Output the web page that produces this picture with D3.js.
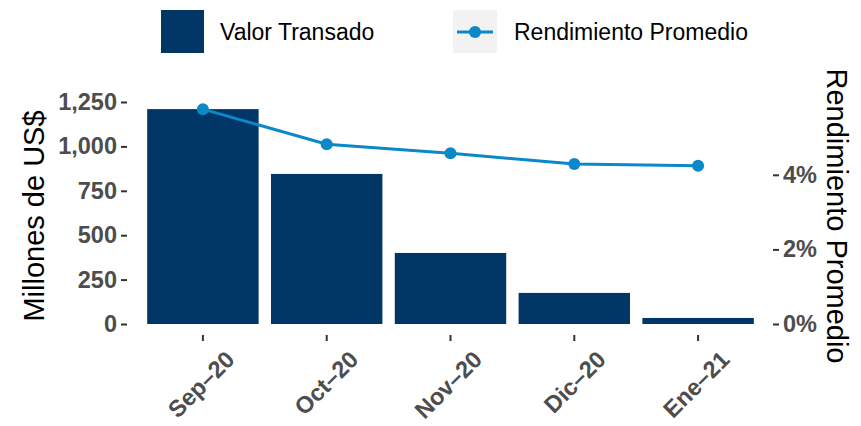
<!DOCTYPE html>
<html>
<head>
<meta charset="utf-8">
<script src="https://cdn.jsdelivr.net/npm/d3@7"></script>
<style>
  body { margin: 0; background: #fff; }
  svg { font-family: "Liberation Sans", Arial, sans-serif; }
</style>
</head>
<body>
<svg id="chart" width="861" height="426"></svg>
<script>
// Data
const months = ["Sep–20", "Oct–20", "Nov–20", "Dic–20", "Ene–21"];
const valorTransado = [1210, 845, 400, 175, 34];          // millones de US$
const rendimiento = [0.0576, 0.0482, 0.0458, 0.0429, 0.0424];
const leftTicks = [0, 250, 500, 750, 1000, 1250];
const rightTicks = [0, 0.02, 0.04];

const barColor = "#003767";
const lineColor = "#0a88c8";
const tickText = "#4d4d4d";

const svg = d3.select("#chart");

// panel
const panel = { left: 129, right: 772, top: 91, bottom: 335 };

const x = d3.scaleBand()
  .domain(months)
  .range([panel.left + 12, panel.right - 12])
  .paddingInner(0.1)
  .paddingOuter(0.05);

const y = d3.scaleLinear()
  .domain([0, 1250])
  .range([324, 102]);

// secondary axis is the primary divided by 210 (in %)
const yRight = d3.scaleLinear()
  .domain([0, 1250 / 210 / 100])
  .range([324, 102]);

// bars
svg.append("g")
  .selectAll("rect")
  .data(valorTransado)
  .enter()
  .append("rect")
  .attr("x", (d, i) => x(months[i]))
  .attr("y", d => y(d))
  .attr("width", x.bandwidth())
  .attr("height", d => y(0) - y(d))
  .attr("fill", barColor);

// line
const line = d3.line()
  .x((d, i) => x(months[i]) + x.bandwidth() / 2)
  .y(d => yRight(d));

svg.append("path")
  .datum(rendimiento)
  .attr("d", line)
  .attr("fill", "none")
  .attr("stroke", lineColor)
  .attr("stroke-width", 3);

svg.append("g")
  .selectAll("circle")
  .data(rendimiento)
  .enter()
  .append("circle")
  .attr("cx", (d, i) => x(months[i]) + x.bandwidth() / 2)
  .attr("cy", d => yRight(d))
  .attr("r", 6)
  .attr("fill", lineColor);

// left axis
const yAxis = d3.axisLeft(y)
  .tickValues(leftTicks)
  .tickFormat(d3.format(","))
  .tickSize(6)
  .tickPadding(4);

const gl = svg.append("g")
  .attr("transform", `translate(${panel.left - 2},0)`)
  .call(yAxis);

// right axis
const yAxisR = d3.axisRight(yRight)
  .tickValues(rightTicks)
  .tickFormat(d3.format(".0%"))
  .tickSize(6)
  .tickPadding(4);

const gr = svg.append("g")
  .attr("transform", `translate(${panel.right + 1},0)`)
  .call(yAxisR);

// bottom axis
const xAxis = d3.axisBottom(x)
  .tickSize(6)
  .tickPadding(4);

const gx = svg.append("g")
  .attr("transform", `translate(0,${panel.bottom})`)
  .call(xAxis);

gx.selectAll("text")
  .attr("text-anchor", "end")
  .attr("dy", null)
  .attr("y", 0)
  .attr("transform", "translate(33,26) rotate(-45)");

[gl, gr, gx].forEach(g => {
  g.select(".domain").remove();
  g.selectAll(".tick line").attr("stroke", "#333").attr("stroke-width", 2);
  g.selectAll(".tick text")
    .attr("fill", tickText)
    .attr("font-size", "23.5px")
    .attr("font-weight", "bold")
    .attr("font-family", "Liberation Sans, Arial, sans-serif");
});

// axis titles
svg.append("text")
  .attr("transform", "translate(44,216) rotate(-90)")
  .attr("text-anchor", "middle")
  .attr("font-size", "29px")
  .attr("fill", "#000")
  .text("Millones de US$");

svg.append("text")
  .attr("transform", "translate(827,216) rotate(90)")
  .attr("text-anchor", "middle")
  .attr("font-size", "29px")
  .attr("fill", "#000")
  .text("Rendimiento Promedio");

// legend
const legend = svg.append("g");

legend.append("rect")
  .attr("x", 161).attr("y", 10)
  .attr("width", 43).attr("height", 43)
  .attr("fill", barColor);

legend.append("text")
  .attr("x", 220).attr("y", 40)
  .attr("font-size", "23px")
  .attr("fill", "#000")
  .text("Valor Transado");

legend.append("rect")
  .attr("x", 453).attr("y", 10)
  .attr("width", 44).attr("height", 43)
  .attr("fill", "#f2f2f2");

legend.append("line")
  .attr("x1", 457).attr("x2", 493)
  .attr("y1", 32).attr("y2", 32)
  .attr("stroke", lineColor)
  .attr("stroke-width", 3);

legend.append("circle")
  .attr("cx", 475).attr("cy", 32)
  .attr("r", 6)
  .attr("fill", lineColor);

legend.append("text")
  .attr("x", 514).attr("y", 40)
  .attr("font-size", "23px")
  .attr("fill", "#000")
  .text("Rendimiento Promedio");
</script>
</body>
</html>
